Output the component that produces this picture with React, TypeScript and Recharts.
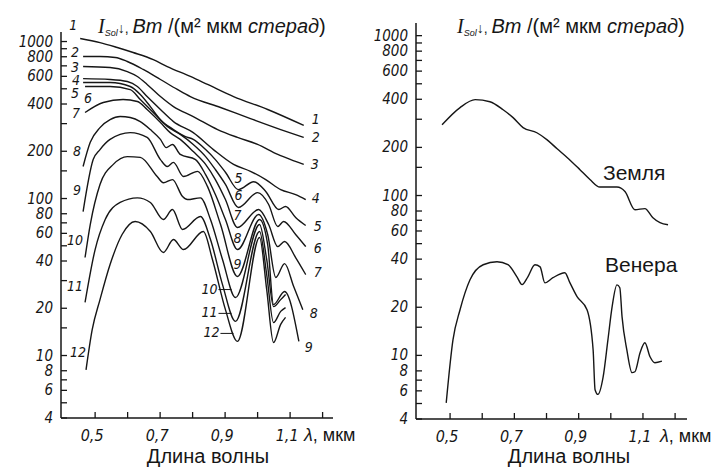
import { LineChart, Line, XAxis, YAxis, ReferenceDot } from "recharts"

type Pt = [number, number]

// Left panel: upward radiance, curves 1..12 — [λ, мкм ; Вт/(м² мкм стерад)]
const curve1: Pt[] = [[0.454, 1045], [0.515, 985], [0.568, 916], [0.617, 851], [0.679, 767], [0.722, 693], [0.793, 599], [0.846, 533], [0.926, 446], [1.031, 369], [1.142, 292]]
const curve2: Pt[] = [[0.463, 802], [0.515, 802], [0.562, 791], [0.599, 746], [0.648, 664], [0.701, 573], [0.753, 495], [0.793, 446], [0.886, 380], [0.978, 323], [1.071, 275], [1.142, 245]]
const curve3: Pt[] = [[0.463, 693], [0.546, 683], [0.599, 644], [0.63, 599], [0.66, 533], [0.701, 446], [0.741, 385], [0.802, 333], [0.877, 275], [0.938, 245], [1.0, 221], [1.062, 191], [1.102, 177], [1.142, 165]]
const curve4: Pt[] = [[0.463, 580], [0.546, 573], [0.599, 556], [0.63, 517], [0.66, 446], [0.701, 369], [0.741, 309], [0.802, 263], [0.864, 205], [0.926, 165], [0.978, 149], [1.025, 132], [1.071, 114], [1.117, 106], [1.148, 98.5]]
const curve5: Pt[] = [[0.463, 548], [0.546, 548], [0.608, 517], [0.639, 460], [0.67, 385], [0.701, 318], [0.741, 275], [0.778, 248], [0.802, 238], [0.84, 205], [0.87, 177], [0.901, 147], [0.941, 114], [0.988, 128], [1.025, 111], [1.065, 85.1], [1.086, 89], [1.117, 75.7], [1.148, 67.3]]
const curve6: Pt[] = [[0.469, 517], [0.546, 517], [0.608, 494], [0.639, 427], [0.679, 353], [0.722, 288], [0.762, 256], [0.802, 221], [0.84, 185], [0.87, 153], [0.901, 123], [0.941, 87.7], [1.0, 109], [1.034, 91.6], [1.062, 66.3], [1.08, 71.4], [1.117, 59], [1.148, 49.4]]
const curve7: Pt[] = [[0.469, 353], [0.525, 409], [0.586, 427], [0.63, 415], [0.66, 369], [0.701, 305], [0.731, 263], [0.762, 238], [0.802, 199], [0.84, 165], [0.87, 132], [0.901, 98.5], [0.938, 65.4], [1.003, 85.1], [1.034, 68.3], [1.062, 49.4], [1.083, 53.2], [1.117, 42.1], [1.148, 32.8]]
const curve8: Pt[] = [[0.463, 160], [0.485, 228], [0.515, 283], [0.546, 318], [0.577, 333], [0.608, 328], [0.639, 309], [0.67, 275], [0.701, 238], [0.719, 211], [0.738, 221], [0.762, 191], [0.809, 177], [0.84, 142], [0.87, 106], [0.901, 73.5], [0.938, 47.3], [1.003, 79.1], [1.031, 59], [1.056, 31.4], [1.083, 38.5], [1.111, 27.5], [1.139, 19.6]]
const curve9: Pt[] = [[0.463, 82.6], [0.494, 177], [0.515, 205], [0.546, 238], [0.608, 263], [0.66, 245], [0.701, 177], [0.722, 160], [0.741, 170], [0.772, 138], [0.815, 149], [0.846, 119], [0.886, 68.3], [0.938, 31.9], [1.006, 73.5], [1.031, 50.9], [1.049, 21.1], [1.083, 25.6], [1.127, 12.3]]
const curve10: Pt[] = [[0.469, 42.1], [0.485, 68.3], [0.515, 123], [0.556, 165], [0.599, 185], [0.639, 183], [0.691, 138], [0.71, 126], [0.738, 132], [0.769, 103], [0.784, 98.5], [0.824, 101], [0.855, 73.5], [0.892, 40.9], [0.932, 23.4], [1.006, 68.3], [1.028, 40.9], [1.049, 20.5], [1.071, 22.7], [1.086, 24.5]]
const curve11: Pt[] = [[0.469, 21.8], [0.5, 47.3], [0.531, 73.5], [0.577, 94.4], [0.63, 101], [0.67, 94.4], [0.71, 73.5], [0.738, 85.1], [0.769, 63.5], [0.824, 76.8], [0.855, 54.8], [0.892, 28.3], [0.932, 16.5], [1.006, 61.7], [1.028, 32.8], [1.049, 16.2], [1.071, 19.1], [1.086, 20.2]]
const curve12: Pt[] = [[0.472, 8.1], [0.491, 14.6], [0.515, 22.7], [0.546, 38], [0.583, 59], [0.623, 71.4], [0.67, 61.7], [0.71, 45.3], [0.741, 54.8], [0.772, 47.3], [0.833, 61.7], [0.861, 40.9], [0.901, 19.6], [0.938, 12.3], [1.006, 56.5], [1.028, 26.3], [1.049, 12.1], [1.071, 15.8], [1.086, 17.5]]

const leftCurves = [curve1, curve2, curve3, curve4, curve5, curve6, curve7, curve8, curve9, curve10, curve11, curve12]

// Right panel
const earth: Pt[] = [[0.475, 277], [0.531, 355], [0.578, 398], [0.624, 386], [0.665, 344], [0.696, 307], [0.727, 266], [0.77, 247], [0.802, 223], [0.833, 196], [0.864, 173], [0.904, 145], [0.935, 126], [0.966, 113], [1.019, 113], [1.044, 106], [1.075, 81.5], [1.106, 82.8], [1.131, 72.6], [1.153, 67.6], [1.178, 65.6]]
const venus: Pt[] = [[0.488, 5.05], [0.509, 12.5], [0.531, 19.3], [0.562, 29.7], [0.603, 36.9], [0.646, 38.5], [0.68, 36.9], [0.708, 31], [0.724, 27.7], [0.742, 31], [0.764, 36.9], [0.78, 35.8], [0.795, 28.4], [0.82, 30.6], [0.857, 32.9], [0.873, 28.4], [0.895, 23.3], [0.926, 19.3], [0.945, 10.8], [0.951, 6.1], [0.96, 5.7], [0.976, 7.3], [0.991, 12.5], [1.004, 20.1], [1.019, 27.6], [1.028, 26.5], [1.035, 17.4], [1.05, 10.8], [1.066, 7.8], [1.075, 7.9], [1.091, 10.4], [1.106, 12], [1.122, 9.8], [1.137, 9], [1.159, 9.2]]

const yTicks = [4, 5, 6, 7, 8, 10, 15, 20, 30, 40, 50, 60, 70, 80, 100, 150, 200, 300, 400, 500, 600, 700, 800, 900, 1000]
const yLabels = [4, 6, 8, 10, 20, 40, 60, 80, 100, 200, 400, 600, 800, 1000]
const xTicks = [0.5, 0.6, 0.7, 0.8, 0.9, 1.0, 1.1, 1.2]
const xLabels = [0.5, 0.7, 0.9, 1.1]

const ink = "#161616"
const textFont = "'Liberation Sans', Arial, sans-serif"
const numFont = {
  fontFamily: "'DejaVu Sans Condensed', 'DejaVu Sans', sans-serif",
  fontStretch: "condensed",
  fontStyle: "italic",
  fontSize: 14,
  fill: ink,
}

// pixel offsets of the curve numbers from the first / last point of each curve
const startTag: Pt[] = [[-7, -14], [-8, -5], [-8, 0], [-7, 1], [-8, 10], [3, 11], [-9, 0], [-6, -15], [-6, -22], [-10, -18], [-10, -16], [-8, -18]]
const endTag: (Pt | null)[] = [[12, -6], [12, 0], [11, 0], [10, -2], [12, 0], [12, 1], [12, -3], [11, 3], [10, 6], null, null, null]

const toRows = (c: Pt[]) => c.map(([x, y]) => ({ x, y }))

// deepest point of the 0.94 мкм band
function dip(c: Pt[]) {
  let best: Pt | null = null
  for (const p of c) if (p[0] > 0.9 && p[0] < 0.97 && (!best || p[1] < best[1])) best = p
  return best as Pt
}

function Tag({ viewBox, t, ox, oy, lead }: any) {
  const x = viewBox.x
  const y = viewBox.y
  return (
    <g>
      {lead && <line x1={x + lead[0]} x2={x + lead[1]} y1={y + oy + 1} y2={y + oy + 1} stroke={ink} strokeWidth={1} />}
      <text x={x + ox} y={y + oy} textAnchor="middle" dominantBaseline="central" style={numFont}>{t}</text>
    </g>
  )
}

function YTick({ x, y, payload }: any) {
  const v = payload.value
  return (
    <g>
      <line x1={x} x2={x + 6} y1={y} y2={y} stroke={ink} strokeWidth={1.3} />
      {yLabels.includes(v) && (
        <text x={x - 8} y={y} dy={5} textAnchor="end" style={{ ...numFont, fontSize: 15 }}>{v}</text>
      )}
    </g>
  )
}

function XTick({ x, y, payload }: any) {
  const v = payload.value
  return (
    <g>
      <line x1={x} x2={x} y1={y} y2={y - 6} stroke={ink} strokeWidth={1.3} />
      {xLabels.includes(v) && (
        <text x={x - 3} y={y + 23} textAnchor="middle" style={{ ...numFont, fontSize: 16 }}>{String(v).replace(".", ",")}</text>
      )}
    </g>
  )
}

function Title({ x }: { x: number }) {
  return (
    <text x={x} y={33} fill={ink} style={{ fontFamily: textFont, fontSize: 20, whiteSpace: "pre" }}>
      <tspan style={{ fontFamily: "'Liberation Serif', serif", fontStyle: "italic" }}>I</tspan>
      <tspan dy={3} style={{ fontSize: 9, fontStyle: "italic" }}>Sol</tspan>
      <tspan dy={-3} style={{ fontSize: 14 }}>↓, </tspan>
      <tspan style={{ fontStyle: "italic" }}>Вт</tspan>
      <tspan> /(м² мкм </tspan>
      <tspan style={{ fontStyle: "italic" }}>стерад</tspan>
      <tspan>)</tspan>
    </text>
  )
}

const axisLine = { stroke: ink, strokeWidth: 1.5 }

function axes(xDomain: number[], yDomain: number[], yWidth: number, xHeight: number) {
  return [
    <XAxis key="x" type="number" dataKey="x" domain={xDomain} allowDataOverflow ticks={xTicks} interval={0}
      height={xHeight} tickLine={false} tickSize={0} tickMargin={0} axisLine={axisLine} tick={<XTick />} />,
    <YAxis key="y" type="number" scale="log" domain={yDomain} allowDataOverflow ticks={yTicks} interval={0}
      width={yWidth} tickLine={false} tickSize={0} tickMargin={0} axisLine={axisLine} tick={<YTick />} />,
  ]
}

export default function App() {
  return (
    <div style={{ position: "absolute", left: 0, top: 0, width: 718, height: 470, background: "#fff" }}>
      <div style={{ position: "absolute", left: 0, top: 0 }}>
        <LineChart width={359} height={470} margin={{ top: 32, right: 26, bottom: 0, left: 0 }}>
          {axes([0.395, 1.232], [4, 1150], 61, 52)}
          {leftCurves.map((c, i) => (
            <Line key={i} data={toRows(c)} dataKey="y" type="monotone" dot={false} stroke={ink}
              strokeWidth={1.4} isAnimationActive={false} />
          ))}
          {leftCurves.map((c, i) => (
            <ReferenceDot key={"s" + i} x={c[0][0]} y={c[0][1]} r={0} fill="none" stroke="none"
              label={<Tag t={String(i + 1)} ox={startTag[i][0]} oy={startTag[i][1]} />} />
          ))}
          {leftCurves.map((c, i) => {
            const off = endTag[i]
            if (!off) return null
            const p = c[c.length - 1]
            return <ReferenceDot key={"e" + i} x={p[0]} y={p[1]} r={0} fill="none" stroke="none"
              label={<Tag t={String(i + 1)} ox={off[0]} oy={off[1]} />} />
          })}
          {leftCurves.map((c, i) => {
            if (i < 4) return null
            const p = dip(c)
            const low = i >= 9
            return <ReferenceDot key={"d" + i} x={p[0]} y={p[1]} r={0} fill="none" stroke="none"
              label={<Tag t={String(i + 1)} ox={low ? -26 : 0} oy={low ? -9 : -12} lead={low ? [-17, -4] : null} />} />
          })}
        </LineChart>
      </div>
      <div style={{ position: "absolute", left: 359, top: 0 }}>
        <LineChart width={359} height={470} margin={{ top: 23, right: 31, bottom: 0, left: 0 }}>
          {axes([0.394, 1.237], [4, 1200], 57, 51)}
          <Line data={toRows(earth)} dataKey="y" type="monotone" dot={false} stroke={ink} strokeWidth={1.4} isAnimationActive={false} />
          <Line data={toRows(venus)} dataKey="y" type="monotone" dot={false} stroke={ink} strokeWidth={1.4} isAnimationActive={false} />
        </LineChart>
      </div>
      <svg width={718} height={470} style={{ position: "absolute", left: 0, top: 0, pointerEvents: "none" }}>
        <Title x={98} />
        <Title x={457} />
        <g fill={ink} style={{ fontFamily: textFont, fontSize: 18 }}>
          <text x={304} y={441}><tspan style={{ fontStyle: "italic" }}>λ</tspan>, мкм</text>
          <text x={660} y={442}><tspan style={{ fontStyle: "italic" }}>λ</tspan>, мкм</text>
        </g>
        <g fill={ink} style={{ fontFamily: textFont, fontSize: 20 }}>
          <text x={208} y={463} textAnchor="middle">Длина волны</text>
          <text x={569} y={463} textAnchor="middle">Длина волны</text>
        </g>
        <g fill={ink} style={{ fontFamily: textFont, fontSize: 21 }}>
          <text x={603} y={180}>Земля</text>
          <text x={605} y={272}>Венера</text>
        </g>
      </svg>
    </div>
  )
}
